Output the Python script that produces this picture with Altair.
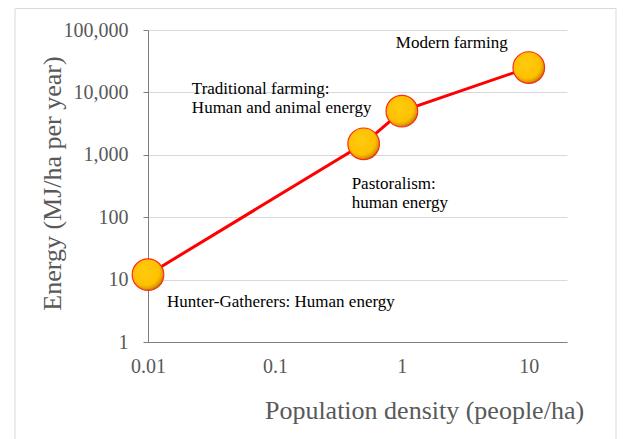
import altair as alt
import pandas as pd

# values
density = [0.01, 0.5, 1, 10]
energy = [12, 1500, 5000, 25000]
stage = ["Hunter-Gatherers", "Pastoralism", "Traditional farming", "Modern farming"]
notes = [
    "Hunter-Gatherers:  Human energy",
    "Pastoralism:\nhuman energy",
    "Traditional farming:\nHuman and animal energy",
    "Modern  farming",
]
x_ticks = [0.01, 0.1, 1, 10]
y_ticks = [1, 10, 100, 1000, 10000, 100000]

df = pd.DataFrame({"density": density, "energy": energy, "stage": stage, "note": notes})

FONT = "Liberation Serif"
GRAY = "#595959"

x_enc = alt.X(
    "density:Q",
    scale=alt.Scale(type="log", domain=[0.01, 20], nice=False),
    axis=alt.Axis(
        values=x_ticks, labelExpr="datum.value >= 1 ? format(datum.value, 'd') : format(datum.value, '.2~f')",
        title="Population density (people/ha)", grid=False, ticks=False,
        labelPadding=14, labelFontSize=20, labelColor=GRAY, labelFont=FONT,
        titleFontSize=26, titleColor=GRAY, titleFont=FONT, titleFontWeight="normal",
        titleX=276, titleY=76, titleBaseline="alphabetic", titleAnchor="middle",
        domainColor="#7f7f7f", labelFlush=False,
    ),
)
y_enc = alt.Y(
    "energy:Q",
    scale=alt.Scale(type="log", domain=[1, 100000], nice=False),
    axis=alt.Axis(
        values=y_ticks, format=",d", title="Energy (MJ/ha per year)",
        grid=True, gridColor="#D9D9D9", tickSize=5, tickColor="#7f7f7f",
        labelPadding=15, labelFontSize=20, labelColor=GRAY, labelFont=FONT,
        titleFontSize=26, titleColor=GRAY, titleFont=FONT, titleFontWeight="normal",
        titleX=-88, titleY=153, titleBaseline="alphabetic", titleAngle=-90,
        domainColor="#7f7f7f", labelFlush=False,
    ),
)

base = alt.Chart(df)

frame = base.mark_rect(fill=None, stroke="#D9D9D9", strokeWidth=1).encode(
    x=alt.value(-133), x2=alt.value(468), y=alt.value(-21.5), y2=alt.value(425)
).transform_filter(alt.datum.stage == "Modern farming")

line = base.mark_line(color="#FF0000", strokeWidth=3).encode(x=x_enc, y=y_enc)

dots = base.mark_circle(
    size=1000, opacity=1,
    fill=alt.Gradient(
        gradient="radial",
        stops=[
            alt.GradientStop(color="#FFCB10", offset=0),
            alt.GradientStop(color="#FFC000", offset=0.7),
            alt.GradientStop(color="#D99600", offset=0.88),
            alt.GradientStop(color="#8A5A00", offset=1),
        ],
        x1=0.42, y1=0.38, r1=0, x2=0.44, y2=0.42, r2=0.62,
    ),
    stroke="#FF2A1A", strokeWidth=1.2,
).encode(x="density:Q", y="energy:Q")

# label offsets relative to each point
offsets = {
    "Hunter-Gatherers": (19, 32),
    "Pastoralism": (-12, 45),
    "Traditional farming": (-210, -17),
    "Modern farming": (-133, -20),
}
labels = []
for name, (ox, oy) in offsets.items():
    labels.append(
        base.mark_text(
            align="left", baseline="alphabetic", dx=ox, dy=oy, font=FONT,
            fontSize=17, color="#000000", lineBreak="\n", lineHeight=19,
        ).encode(x="density:Q", y="energy:Q", text="note:N").transform_filter(alt.datum.stage == name)
    )

chart = alt.layer(frame, line, dots, *labels).properties(
    width=419, height=312,
    autosize=alt.AutoSizeParams(type="none"),
    padding={"left": 140, "top": 22, "right": 50, "bottom": 100},
    background="white",
).configure_view(stroke=None)

chart.save("out.html", embed_options={"renderer": "svg", "actions": False})
